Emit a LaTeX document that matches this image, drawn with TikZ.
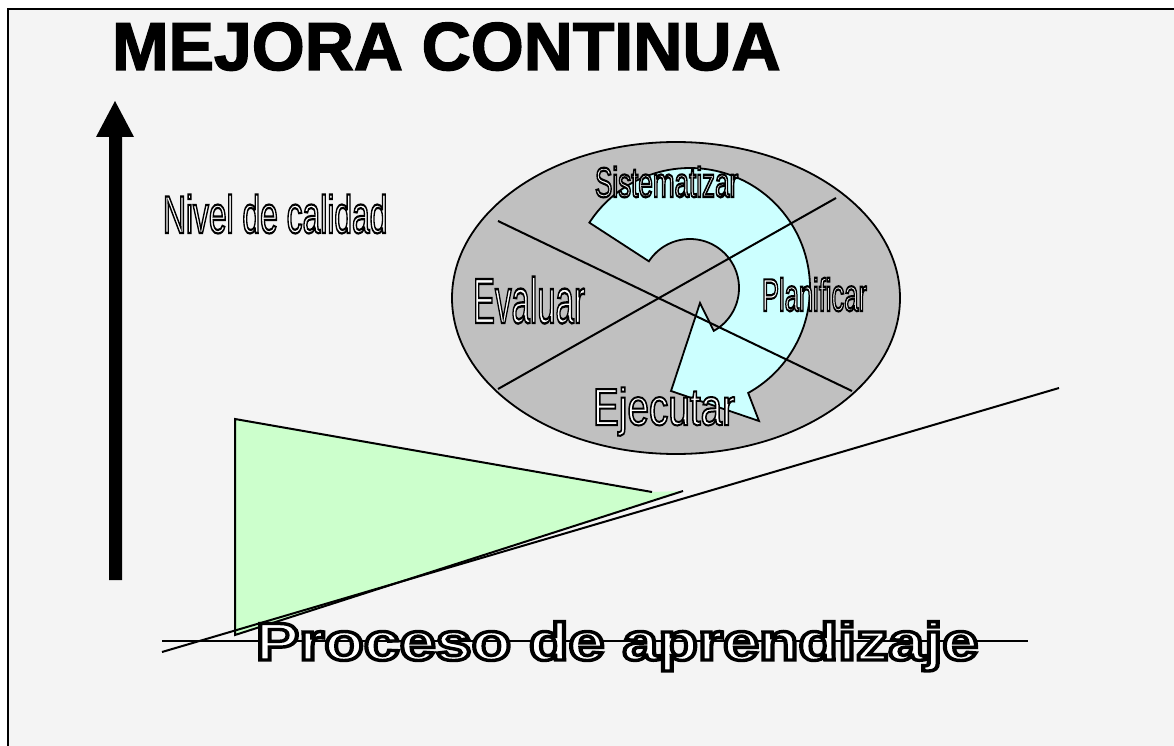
\documentclass[tikz,border=0pt]{standalone}
\usepackage{fontspec}
\setmainfont{Liberation Sans}
\usepackage{graphicx}
\definecolor{bgray}{HTML}{F4F4F4}
\definecolor{ellgray}{HTML}{C0C0C0}
\definecolor{cyanf}{HTML}{CCFFFF}
\definecolor{greenf}{HTML}{CCFFCC}
\newcommand\outltxt[2]{\special{pdf:literal direct #1 w 2 Tr 0 G}#2\special{pdf:literal direct 0 Tr}}
\tikzset{
  lbl/.style={anchor=base west, inner sep=0pt, outer sep=0pt},
  thinline/.style={line width=2pt, draw=black},
}
\begin{document}
\begin{tikzpicture}[x=1pt,y=-1pt]
\useasboundingbox (0,0) rectangle (1174,746);
\fill[white] (0,0) rectangle (1174,746);
\draw[line width=2pt, fill=bgray] (8,9) rectangle (1190,760);

% title
\node[lbl, font=\fontsize{68}{80}\selectfont\bfseries] (title) at (112,70) {\outltxt{1.4}{MEJORA CONTINUA}};

% vertical arrow
\fill[black] (109,580) -- (109,137) -- (96,137) -- (115,101) -- (134,137) -- (122,137) -- (122,580) -- cycle;

% y label
\node[lbl] (nivel) at (163,233) {\scalebox{0.6}[1]{\fontsize{53}{60}\selectfont\color{white}\outltxt{2.2}{Nivel de calidad}}};

% ellipse
\draw[line width=1.8pt, fill=ellgray] (676,298) ellipse [x radius=224pt, y radius=156pt];

% circular arrow
\draw[line width=1.8pt, fill=cyanf, line join=miter]
  plot[domain=213:421, samples=90] ({690+120*cos(\x)},{288+120*sin(\x)})
  -- (759,421) -- (671,391) -- (700,303)
  -- plot[domain=213:421, samples=90] ({690+49*cos(634-\x)},{288+49*sin(634-\x)})
  -- cycle;

% cross lines
\coordinate (l1a) at (498,221); \coordinate (l1b) at (852,391);
\coordinate (l2a) at (498,389); \coordinate (l2b) at (836,198);
\draw[thinline] (l1a) -- (l1b);
\draw[thinline] (l2a) -- (l2b);

% labels in ellipse
\node[lbl] (sist) at (595,197) {\scalebox{0.62}[1]{\fontsize{42}{50}\selectfont\color{white}\outltxt{2.2}{Sistematizar}}};
\node[lbl] (eval) at (473,323) {\scalebox{0.516}[1]{\fontsize{64}{70}\selectfont\color{white}\outltxt{2.4}{Evaluar}}};
\node[lbl] (plan) at (762,311) {\scalebox{0.555}[1]{\fontsize{46}{54}\selectfont\color{white}\outltxt{2.2}{Planificar}}};
\node[lbl] (ejec) at (593,425) {\scalebox{0.745}[1]{\fontsize{52}{60}\selectfont\color{white}\outltxt{2.0}{Ejecutar}}};

% green wedge
\coordinate (ta) at (235,419);
\coordinate (tb) at (652,492);
\coordinate (tc) at (683,491);
\coordinate (td) at (235,635);
\fill[greenf] (ta) -- (tb) -- (tc) -- (td) -- cycle;
\draw[line width=2pt, line join=miter] (tb) -- (ta) -- (td) -- (tc);

% base lines
\coordinate (h1) at (162,641); \coordinate (h2) at (1028,641);
\coordinate (s1) at (162,652); \coordinate (s2) at (1059,388);
\draw[thinline] (h1) -- (h2);
\draw[thinline] (s1) -- (s2);

% x label
\node[lbl] (proc) at (256,660) {\scalebox{1.22}[1]{\fontsize{53}{60}\selectfont\bfseries\color{white}\outltxt{3.4}{Proceso de aprendizaje}}};
\end{tikzpicture}
\end{document}
